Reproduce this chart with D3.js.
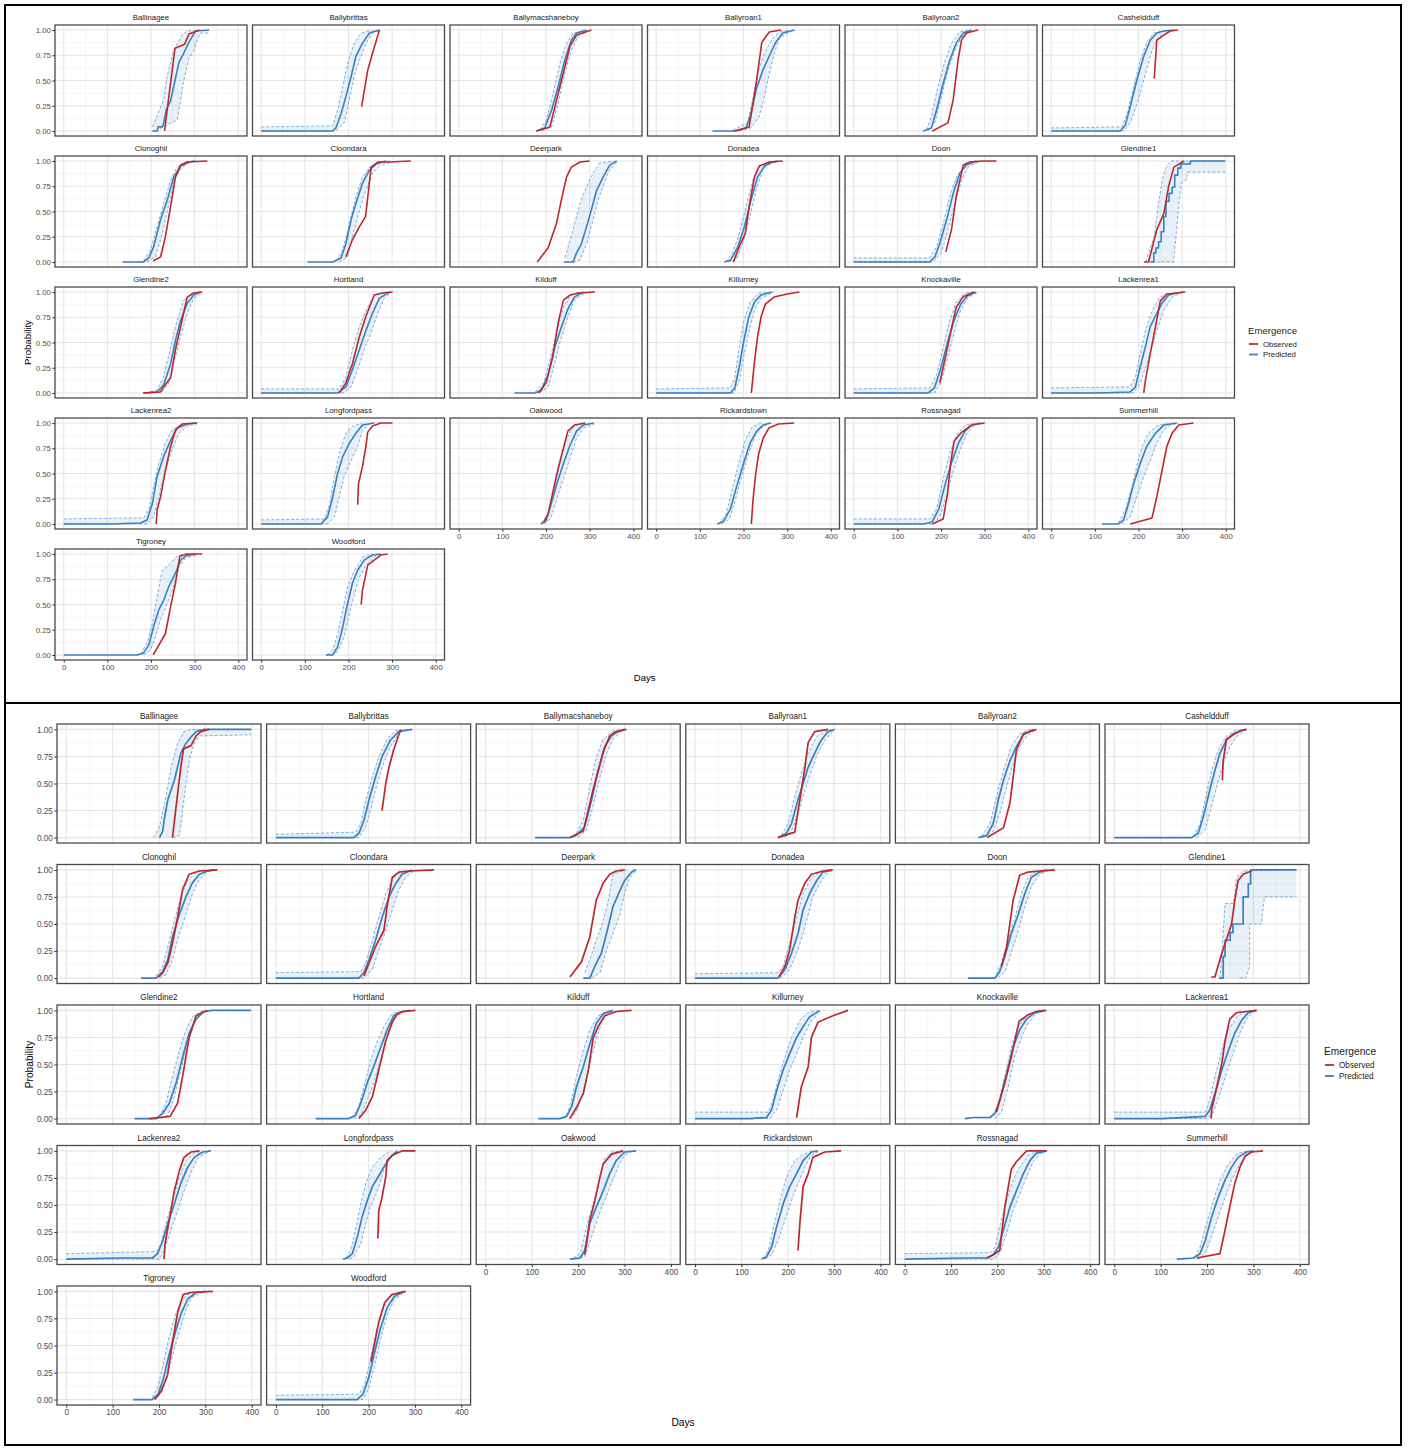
<!DOCTYPE html>
<html>
<head>
<meta charset="utf-8">
<script src="https://cdn.jsdelivr.net/npm/d3@7"></script>
<style>
body { margin: 0; background: #fff; }
svg text { font-family: "Liberation Sans", Arial, sans-serif; }
</style>
</head>
<body>
<svg id="chart" width="1408" height="1448"></svg>
<script>
// Sites (facets), in facet order
const sites = ["Ballinagee","Ballybrittas","Ballymacshaneboy","Ballyroan1","Ballyroan2","Casheldduff",
  "Clonoghil","Cloondara","Deerpark","Donadea","Doon","Glendine1",
  "Glendine2","Hortland","Kilduff","Killurney","Knockaville","Lackenrea1",
  "Lackenrea2","Longfordpass","Oakwood","Rickardstown","Rossnagad","Summerhill",
  "Tigroney","Woodford"]

const xTicks = [0, 100, 200, 300, 400]
const yTicks = [0, 0.25, 0.5, 0.75, 1]
const legendKeys = ["Observed", "Predicted"]

// ---- top chart: [day, probability] points ----
const obsA = [
  [[231,0],[255,0.82],[277,0.86],[287,0.96],[311,1]],
  [[230,0.24],[244,0.6],[255,0.77],[271,1]],
  [[178,0],[209,0.04],[232,0.44],[255,0.84],[270,0.95],[304,1]],
  [[179,0],[213,0.04],[229,0.47],[242,0.88],[259,0.98],[286,1]],
  [[180,0],[216,0.08],[228,0.31],[239,0.7],[247,0.9],[258,0.97],[285,1]],
  [[236,0.52],[242,0.9],[258,0.95],[273,0.99],[290,1]],
  [[205,0.01],[222,0.05],[233,0.25],[245,0.55],[256,0.84],[268,0.96],[283,0.99],[329,1]],
  [[194,0.05],[209,0.22],[225,0.35],[239,0.45],[252,0.94],[267,0.99],[294,0.99],[343,1]],
  [[180,0],[205,0.14],[224,0.38],[235,0.61],[247,0.84],[258,0.94],[278,0.99],[300,1]],
  [[177,0],[190,0.15],[204,0.28],[213,0.55],[225,0.84],[236,0.95],[259,0.99],[290,1]],
  [[211,0.1],[224,0.32],[235,0.65],[251,0.96],[266,0.99],[297,1],[327,1]],
  [[213,0],[223,0],[242,0.32],[258,0.48],[269,0.75],[281,0.94],[305,1]],
  [[182,0],[222,0.01],[229,0.06],[245,0.15],[256,0.43],[271,0.72],[283,0.95],[298,0.99],[317,1]],
  [[179,0],[194,0.1],[209,0.29],[225,0.56],[240,0.76],[259,0.97],[278,0.99],[301,1]],
  [[183,0],[200,0.1],[215,0.35],[228,0.7],[240,0.92],[255,0.97],[275,0.99],[312,1]],
  [[218,0],[225,0.3],[232,0.55],[240,0.75],[250,0.88],[270,0.95],[300,0.98],[328,1]],
  [[197,0.1],[210,0.35],[222,0.6],[235,0.85],[250,0.95],[275,1]],
  [[212,0],[216,0.13],[227,0.39],[239,0.66],[250,0.91],[265,0.98],[288,0.99],[307,1]],
  [[212,0],[214,0.14],[222,0.27],[233,0.53],[245,0.77],[256,0.93],[271,0.99],[306,1]],
  [[221,0.19],[223,0.4],[232,0.57],[240,0.77],[244,0.91],[255,0.97],[274,1],[301,1]],
  [[195,0.02],[205,0.1],[215,0.3],[225,0.5],[238,0.72],[250,0.92],[265,0.98],[290,1]],
  [[218,0],[222,0.25],[228,0.5],[235,0.7],[245,0.85],[258,0.95],[280,0.99],[316,1]],
  [[180,0],[205,0.05],[215,0.3],[222,0.6],[230,0.82],[245,0.9],[270,0.98],[300,1]],
  [[181,0],[231,0.06],[242,0.27],[254,0.53],[265,0.77],[277,0.9],[292,0.98],[326,1]],
  [[205,0],[233,0.21],[245,0.48],[256,0.71],[266,0.98],[283,1],[317,1]],
  [[229,0.5],[232,0.64],[244,0.89],[259,0.94],[274,0.99],[290,1]]
]
const predA = [
  [[203,0],[215,0],[216,0.04],[226,0.04],[229,0.08],[235,0.21],[245,0.3],[255,0.5],[264,0.68],[275,0.77],[287,0.88],[302,0.99],[333,1]],
  [[0,0],[164,0],[171,0.03],[183,0.17],[194,0.34],[206,0.54],[217,0.74],[232,0.87],[248,0.97],[271,1]],
  [[178,0],[197,0.03],[213,0.21],[228,0.44],[243,0.7],[258,0.9],[270,0.97],[293,1]],
  [[129,0],[183,0],[206,0.03],[217,0.17],[229,0.41],[244,0.6],[259,0.74],[274,0.88],[290,0.97],[317,1]],
  [[159,0],[178,0.03],[190,0.21],[205,0.47],[220,0.7],[235,0.87],[251,0.97],[270,1]],
  [[0,0],[158,0],[170,0.06],[181,0.24],[196,0.5],[212,0.74],[227,0.9],[242,0.97],[258,0.99],[281,1]],
  [[135,0],[183,0],[195,0.04],[206,0.15],[222,0.42],[237,0.61],[252,0.84],[268,0.95],[287,0.99],[302,1]],
  [[106,0],[164,0],[183,0.04],[194,0.18],[206,0.42],[217,0.58],[232,0.78],[248,0.91],[263,0.97],[286,1]],
  [[241,0],[262,0],[270,0.09],[281,0.18],[293,0.35],[308,0.58],[316,0.71],[331,0.84],[346,0.96],[362,1]],
  [[156,0],[171,0.02],[187,0.15],[202,0.35],[217,0.61],[232,0.84],[248,0.95],[267,0.99],[278,1]],
  [[0,0],[174,0],[186,0.05],[197,0.18],[213,0.42],[228,0.68],[243,0.88],[258,0.96],[281,1]],
  [[227,0],[235,0],[235,0.09],[240,0.09],[240,0.14],[246,0.14],[246,0.2],[252,0.2],[252,0.3],[258,0.3],[258,0.45],[263,0.45],[263,0.6],[270,0.6],[270,0.68],[277,0.68],[277,0.74],[283,0.74],[283,0.86],[290,0.86],[290,0.93],[297,0.93],[297,0.97],[319,0.97],[319,1],[399,1]],
  [[183,0],[214,0.01],[229,0.08],[245,0.29],[256,0.52],[268,0.72],[283,0.89],[298,0.97],[313,1]],
  [[0,0],[175,0],[194,0.06],[209,0.23],[225,0.43],[240,0.62],[255,0.79],[271,0.94],[294,1]],
  [[128,0],[175,0],[190,0.03],[205,0.18],[220,0.45],[235,0.65],[250,0.83],[265,0.95],[285,1]],
  [[0,0],[170,0],[180,0.05],[190,0.25],[200,0.5],[212,0.75],[225,0.9],[240,0.97],[265,1]],
  [[0,0],[170,0],[185,0.05],[200,0.25],[215,0.5],[230,0.72],[245,0.88],[260,0.96],[280,1]],
  [[0,0],[105,0],[181,0.01],[193,0.06],[204,0.26],[216,0.46],[227,0.66],[242,0.79],[254,0.89],[269,0.97],[288,0.99],[304,1]],
  [[0,0],[107,0],[176,0.01],[191,0.04],[203,0.2],[214,0.47],[229,0.67],[245,0.83],[260,0.95],[283,0.99],[302,1]],
  [[0,0],[137,0],[152,0.07],[164,0.27],[175,0.5],[187,0.67],[202,0.8],[217,0.9],[232,0.98],[259,1]],
  [[188,0],[200,0.03],[212,0.2],[225,0.4],[240,0.6],[255,0.78],[270,0.92],[285,0.98],[310,1]],
  [[140,0],[155,0.03],[170,0.15],[185,0.38],[200,0.6],[215,0.8],[230,0.92],[245,0.98],[262,1]],
  [[0,0],[160,0],[180,0.02],[195,0.15],[210,0.4],[225,0.62],[240,0.8],[255,0.92],[270,0.98],[290,1]],
  [[116,0],[154,0],[166,0.04],[177,0.2],[189,0.4],[204,0.6],[219,0.77],[239,0.9],[258,0.98],[288,1]],
  [[0,0],[168,0],[183,0.02],[195,0.1],[206,0.28],[218,0.45],[229,0.54],[241,0.68],[256,0.81],[268,0.94],[279,0.98],[302,1]],
  [[148,0],[164,0],[175,0.08],[187,0.28],[198,0.51],[209,0.71],[221,0.84],[236,0.94],[255,0.99],[274,1]]
]
const uprA = [
  [[203,0.04],[229,0.31],[237,0.54],[252,0.8],[271,0.95],[283,0.99],[333,1]],
  [[0,0.04],[164,0.05],[175,0.21],[187,0.44],[198,0.67],[213,0.87],[229,0.97],[255,1]],
  [[186,0.01],[201,0.11],[216,0.37],[232,0.67],[247,0.87],[262,0.97],[285,0.99]],
  [[175,0.01],[209,0.08],[221,0.31],[232,0.57],[248,0.77],[267,0.92],[282,0.98],[305,1]],
  [[167,0.01],[178,0.14],[193,0.44],[209,0.69],[224,0.87],[243,0.98],[262,1]],
  [[0,0.03],[162,0.04],[174,0.17],[189,0.44],[204,0.7],[219,0.88],[235,0.97],[265,1]],
  [[183,0.01],[199,0.12],[214,0.35],[229,0.58],[245,0.81],[260,0.94],[279,0.99],[298,1]],
  [[171,0.01],[187,0.12],[202,0.38],[217,0.65],[232,0.84],[248,0.94],[271,0.99],[294,1]],
  [[243,0.04],[251,0.15],[262,0.32],[278,0.58],[293,0.75],[308,0.88],[323,0.98],[354,1]],
  [[160,0],[175,0.09],[190,0.28],[206,0.55],[221,0.81],[236,0.94],[259,0.99]],
  [[0,0.04],[174,0.04],[190,0.15],[205,0.38],[220,0.65],[235,0.84],[255,0.96],[278,1]],
  [[216,0],[236,0.25],[245,0.55],[256,0.85],[266,0.96],[276,1],[399,1]],
  [[187,0],[214,0.03],[229,0.16],[245,0.46],[260,0.72],[275,0.92],[294,0.99],[313,1]],
  [[0,0.04],[179,0.04],[194,0.16],[209,0.43],[225,0.66],[240,0.82],[259,0.97],[286,1]],
  [[175,0.01],[195,0.1],[210,0.35],[225,0.62],[240,0.85],[255,0.96],[275,1]],
  [[0,0.04],[170,0.05],[180,0.15],[190,0.45],[200,0.7],[215,0.9],[235,0.99],[255,1]],
  [[0,0.04],[175,0.05],[190,0.18],[205,0.45],[220,0.72],[235,0.9],[255,0.99],[270,1]],
  [[0,0.05],[181,0.06],[193,0.16],[204,0.39],[216,0.62],[232,0.82],[247,0.94],[265,0.99]],
  [[0,0.05],[183,0.06],[195,0.14],[206,0.37],[218,0.6],[233,0.8],[248,0.93],[271,0.99]],
  [[0,0.04],[145,0.05],[157,0.2],[168,0.47],[179,0.7],[194,0.9],[210,0.97],[232,1]],
  [[190,0.01],[205,0.1],[218,0.35],[232,0.6],[245,0.82],[260,0.95],[280,1]],
  [[145,0],[160,0.1],[175,0.35],[190,0.62],[205,0.84],[220,0.96],[240,1]],
  [[0,0.05],[175,0.05],[190,0.15],[205,0.45],[220,0.7],[235,0.88],[255,0.98],[275,1]],
  [[154,0.01],[170,0.14],[185,0.37],[196,0.57],[208,0.77],[223,0.9],[242,0.97],[265,1]],
  [[176,0.01],[191,0.12],[203,0.31],[214,0.58],[225,0.83],[245,0.91],[260,0.98],[283,1]],
  [[151,0],[164,0.05],[175,0.21],[187,0.45],[198,0.68],[214,0.84],[233,0.97],[255,1]]
]
const lwrA = [
  [[210,0],[260,0.11],[268,0.31],[275,0.5],[287,0.72],[298,0.79],[306,0.9],[313,0.97],[333,0.97]],
  [[0,0],[171,0],[190,0.08],[202,0.31],[213,0.54],[225,0.7],[240,0.87],[255,0.97],[271,0.99]],
  [[190,0],[213,0.04],[228,0.27],[243,0.57],[258,0.8],[273,0.93],[293,0.98]],
  [[190,0],[217,0.03],[236,0.14],[248,0.34],[259,0.57],[271,0.77],[282,0.92],[305,0.98]],
  [[170,0],[186,0.08],[201,0.34],[216,0.6],[232,0.8],[247,0.93],[266,0.98]],
  [[0,0],[166,0],[181,0.08],[200,0.31],[216,0.57],[231,0.8],[246,0.93],[269,0.98]],
  [[191,0],[210,0.05],[226,0.28],[241,0.58],[256,0.84],[271,0.94],[291,0.99],[306,1]],
  [[179,0],[198,0.05],[209,0.25],[225,0.51],[240,0.71],[255,0.88],[271,0.95],[297,0.99]],
  [[262,0],[278,0.02],[293,0.18],[308,0.42],[319,0.61],[331,0.75],[342,0.88],[354,0.96],[365,1]],
  [[164,0],[183,0.02],[198,0.18],[213,0.42],[229,0.71],[244,0.91],[263,0.98],[278,0.99]],
  [[0,0],[182,0],[201,0.09],[216,0.32],[232,0.58],[247,0.81],[262,0.94],[285,0.99]],
  [[230,0],[280,0],[287,0.3],[293,0.6],[298,0.78],[311,0.82],[312,0.89],[399,0.89]],
  [[191,0],[225,0.01],[241,0.1],[252,0.29],[268,0.56],[283,0.79],[298,0.94],[317,0.99]],
  [[0,0],[187,0],[206,0.06],[221,0.23],[236,0.43],[251,0.59],[267,0.79],[282,0.94],[298,0.99]],
  [[185,0],[205,0.06],[220,0.3],[235,0.55],[250,0.75],[265,0.92],[290,0.99]],
  [[0,0],[178,0],[190,0.12],[200,0.35],[212,0.6],[225,0.82],[240,0.94],[270,1]],
  [[0,0],[185,0],[200,0.1],[215,0.35],[230,0.6],[245,0.82],[260,0.94],[285,1]],
  [[0,0],[189,0],[204,0.1],[219,0.29],[231,0.46],[242,0.62],[258,0.82],[277,0.95],[296,0.99]],
  [[0,0],[191,0],[206,0.07],[218,0.27],[233,0.53],[248,0.73],[264,0.9],[283,0.97],[306,0.99]],
  [[0,0],[152,0],[168,0.07],[179,0.27],[190,0.47],[206,0.63],[221,0.77],[232,0.93],[248,0.99]],
  [[195,0],[210,0.05],[225,0.25],[240,0.45],[255,0.65],[270,0.85],[285,0.95],[310,0.99]],
  [[150,0],[168,0.05],[182,0.25],[198,0.5],[212,0.7],[228,0.88],[245,0.97],[265,1]],
  [[0,0],[185,0],[200,0.1],[215,0.32],[230,0.55],[245,0.75],[260,0.9],[280,0.99]],
  [[162,0],[181,0.07],[196,0.27],[212,0.47],[227,0.63],[242,0.8],[258,0.93],[273,0.98],[292,1]],
  [[183,0],[199,0.05],[210,0.18],[222,0.35],[237,0.51],[252,0.68],[264,0.87],[279,0.96],[306,0.99]],
  [[160,0],[175,0.03],[190,0.18],[202,0.41],[214,0.61],[225,0.77],[240,0.89],[263,0.98],[278,1]]
]

// ---- bottom chart ----
const obsB = [
  [[229,0],[237,0.29],[247,0.65],[253,0.82],[269,0.85],[280,0.94],[290,0.98],[308,1]],
  [[229,0.25],[237,0.5],[244,0.65],[254,0.81],[269,1]],
  [[182,0],[211,0.06],[232,0.44],[254,0.79],[268,0.94],[282,0.98],[304,1]],
  [[179,0],[215,0.05],[226,0.35],[237,0.65],[244,0.88],[258,0.98],[287,1]],
  [[178,0],[213,0.09],[227,0.32],[234,0.56],[241,0.81],[256,0.96],[284,1]],
  [[233,0.53],[235,0.71],[242,0.91],[260,0.96],[274,0.99],[285,1]],
  [[199,0.01],[208,0.05],[219,0.14],[229,0.32],[240,0.56],[251,0.82],[265,0.96],[287,0.99],[326,1]],
  [[190,0.02],[201,0.14],[215,0.29],[233,0.44],[240,0.66],[251,0.93],[265,0.98],[287,0.99],[341,1]],
  [[182,0.01],[207,0.15],[225,0.38],[239,0.72],[254,0.88],[268,0.96],[282,0.99],[300,1]],
  [[181,0.01],[194,0.11],[204,0.26],[215,0.56],[222,0.72],[237,0.88],[251,0.96],[276,0.99],[294,1]],
  [[209,0.11],[220,0.29],[234,0.72],[248,0.95],[266,0.98],[291,0.99],[324,1]],
  [[209,0.01],[217,0.01],[232,0.23],[246,0.41],[253,0.5],[260,0.72],[267,0.9],[278,0.96],[296,0.99]],
  [[179,0],[201,0.01],[224,0.02],[240,0.14],[251,0.39],[265,0.75],[280,0.95],[294,0.98],[305,1]],
  [[179,0],[194,0.08],[208,0.2],[222,0.45],[237,0.72],[251,0.89],[262,0.97],[276,0.99],[301,1]],
  [[182,0],[196,0.1],[211,0.23],[222,0.45],[232,0.74],[243,0.85],[257,0.95],[282,0.99],[315,1]],
  [[219,0.01],[229,0.29],[244,0.48],[251,0.75],[265,0.89],[297,0.95],[330,1]],
  [[198,0.06],[216,0.33],[230,0.57],[241,0.79],[247,0.9],[266,0.96],[284,0.99],[302,1]],
  [[209,0],[210,0.08],[221,0.29],[232,0.51],[239,0.72],[249,0.92],[264,0.98],[285,0.99],[307,1]],
  [[211,0],[213,0.14],[222,0.36],[233,0.63],[244,0.82],[254,0.94],[269,0.99],[287,1]],
  [[220,0.19],[222,0.45],[229,0.57],[237,0.76],[240,0.91],[251,0.96],[272,1],[301,1]],
  [[214,0.04],[218,0.14],[225,0.36],[236,0.54],[247,0.76],[254,0.88],[272,0.97],[297,1]],
  [[222,0.08],[226,0.33],[233,0.67],[244,0.79],[254,0.94],[280,0.99],[315,1]],
  [[178,0.01],[191,0.04],[205,0.08],[216,0.48],[230,0.83],[241,0.9],[263,1],[306,1]],
  [[178,0.01],[228,0.05],[239,0.27],[249,0.48],[260,0.7],[271,0.85],[282,0.95],[296,0.99],[321,1]],
  [[191,0],[205,0.08],[218,0.22],[228,0.5],[240,0.8],[252,0.97],[268,0.99],[316,1]],
  [[205,0.35],[212,0.5],[222,0.72],[235,0.9],[250,0.97],[280,1]]
]
const predB = [
  [[201,0],[208,0.06],[211,0.16],[219,0.35],[226,0.44],[233,0.53],[240,0.65],[247,0.78],[258,0.87],[269,0.93],[280,0.98],[297,1],[399,1]],
  [[0,0],[168,0],[179,0.04],[190,0.16],[201,0.35],[215,0.56],[229,0.75],[247,0.9],[265,0.98],[294,1]],
  [[107,0],[182,0],[196,0.02],[214,0.1],[229,0.35],[243,0.62],[257,0.84],[272,0.94],[286,0.98],[300,1]],
  [[179,0],[197,0.04],[208,0.13],[222,0.35],[233,0.5],[244,0.65],[258,0.78],[272,0.9],[287,0.98],[301,1]],
  [[159,0],[177,0.02],[191,0.13],[202,0.35],[213,0.53],[227,0.71],[241,0.84],[256,0.95],[277,1]],
  [[0,0],[167,0],[181,0.04],[192,0.19],[206,0.44],[217,0.62],[228,0.78],[242,0.9],[257,0.96],[274,0.99],[285,1]],
  [[161,0],[194,0],[208,0.06],[219,0.17],[229,0.38],[244,0.59],[258,0.75],[272,0.88],[287,0.96],[305,0.99],[319,1]],
  [[0,0],[179,0],[190,0.05],[201,0.17],[215,0.35],[229,0.56],[244,0.75],[258,0.87],[272,0.96],[294,1]],
  [[211,0],[225,0],[236,0.11],[250,0.23],[261,0.41],[275,0.66],[290,0.81],[300,0.9],[311,0.96],[318,0.99],[325,1]],
  [[0,0],[179,0],[194,0.08],[208,0.23],[222,0.41],[233,0.63],[247,0.78],[262,0.9],[276,0.98],[297,1]],
  [[137,0],[195,0],[205,0.06],[216,0.2],[230,0.41],[245,0.59],[259,0.78],[273,0.93],[291,0.98],[306,1]],
  [[226,0],[235,0],[235,0.2],[239,0.2],[239,0.35],[250,0.35],[250,0.42],[256,0.42],[256,0.5],[278,0.5],[278,0.75],[289,0.75],[289,0.87],[294,0.87],[294,1],[393,1]],
  [[147,0],[194,0],[208,0.05],[222,0.14],[237,0.33],[251,0.57],[265,0.79],[280,0.92],[297,0.99],[315,1],[399,1]],
  [[86,0],[158,0],[172,0.03],[183,0.14],[197,0.33],[211,0.48],[226,0.66],[240,0.82],[254,0.95],[272,0.99],[290,1]],
  [[114,0],[161,0],[175,0.02],[186,0.11],[196,0.29],[211,0.48],[225,0.69],[239,0.88],[254,0.97],[275,1]],
  [[0,0],[118,0],[154,0.01],[165,0.08],[176,0.26],[190,0.45],[204,0.6],[219,0.75],[233,0.85],[247,0.94],[269,1]],
  [[130,0],[148,0.01],[184,0.01],[195,0.05],[205,0.17],[220,0.42],[234,0.66],[248,0.82],[263,0.92],[281,0.98],[306,1]],
  [[0,0],[103,0],[196,0.02],[206,0.08],[217,0.23],[232,0.45],[246,0.63],[260,0.79],[275,0.91],[289,0.98],[307,1]],
  [[0,0],[115,0.01],[186,0.01],[197,0.05],[208,0.17],[219,0.33],[233,0.51],[247,0.7],[262,0.85],[276,0.94],[294,0.99],[312,1]],
  [[145,0],[154,0.01],[165,0.05],[176,0.21],[186,0.39],[197,0.54],[208,0.67],[222,0.77],[237,0.88],[247,0.94],[262,1]],
  [[182,0],[204,0.01],[214,0.08],[225,0.33],[239,0.48],[254,0.63],[268,0.79],[282,0.91],[300,0.99],[325,1]],
  [[143,0],[154,0.02],[165,0.11],[176,0.3],[190,0.51],[204,0.67],[219,0.79],[233,0.91],[251,0.99],[265,1]],
  [[0,0],[134,0.01],[177,0.01],[191,0.04],[202,0.11],[213,0.27],[227,0.48],[241,0.63],[256,0.79],[270,0.91],[284,0.98],[306,1]],
  [[135,0],[171,0.01],[185,0.05],[196,0.17],[210,0.39],[224,0.57],[239,0.73],[253,0.85],[267,0.94],[285,0.99],[300,1]],
  [[144,0],[185,0],[198,0.05],[210,0.2],[222,0.42],[235,0.62],[248,0.8],[262,0.93],[280,0.99],[300,1]],
  [[0,0],[175,0],[188,0.05],[200,0.2],[212,0.42],[225,0.65],[240,0.85],[255,0.95],[275,1]]
]
const uprB = [
  [[188,0],[201,0.1],[215,0.38],[226,0.65],[240,0.87],[254,0.98],[272,1],[399,1]],
  [[0,0.03],[172,0.05],[183,0.13],[194,0.35],[208,0.56],[222,0.75],[240,0.91],[258,0.99],[294,1]],
  [[196,0.04],[211,0.16],[225,0.47],[239,0.74],[254,0.91],[272,0.98],[290,1]],
  [[186,0.02],[201,0.13],[215,0.38],[229,0.59],[244,0.78],[262,0.93],[280,0.98],[294,1]],
  [[166,0.01],[184,0.13],[198,0.38],[213,0.62],[230,0.84],[248,0.96],[270,1]],
  [[171,0.01],[185,0.13],[196,0.35],[210,0.62],[224,0.81],[242,0.94],[260,0.99],[285,1]],
  [[194,0.02],[208,0.11],[219,0.29],[233,0.53],[247,0.75],[262,0.9],[280,0.98],[297,1]],
  [[0,0.05],[183,0.06],[194,0.14],[208,0.35],[222,0.56],[237,0.78],[251,0.91],[269,0.98],[294,1]],
  [[214,0.05],[225,0.17],[239,0.35],[254,0.53],[265,0.72],[275,0.96],[286,0.98],[304,1]],
  [[0,0.04],[179,0.05],[190,0.11],[204,0.32],[219,0.56],[233,0.78],[251,0.93],[269,0.98],[297,1]],
  [[198,0.03],[209,0.14],[223,0.35],[238,0.56],[252,0.78],[266,0.93],[284,0.99],[306,1]],
  [[228,0],[232,0.23],[239,0.69],[257,0.69],[264,0.93],[278,0.99],[393,1]],
  [[201,0.02],[215,0.14],[229,0.39],[244,0.63],[258,0.82],[272,0.94],[290,0.99],[315,1]],
  [[161,0.01],[176,0.08],[190,0.29],[204,0.54],[219,0.72],[233,0.85],[247,0.95],[265,1]],
  [[175,0.03],[186,0.17],[196,0.39],[211,0.63],[225,0.82],[243,0.95],[261,0.99],[275,1]],
  [[0,0.06],[158,0.06],[168,0.17],[179,0.36],[194,0.57],[208,0.75],[226,0.91],[244,0.98],[262,1]],
  [[191,0.03],[202,0.14],[216,0.39],[230,0.66],[245,0.85],[263,0.95],[284,0.99],[306,1]],
  [[0,0.06],[196,0.06],[206,0.17],[217,0.39],[232,0.63],[246,0.82],[264,0.94],[282,0.99],[307,1]],
  [[0,0.05],[194,0.07],[204,0.14],[215,0.33],[229,0.54],[244,0.76],[258,0.91],[276,0.98],[294,1]],
  [[151,0.01],[161,0.08],[172,0.27],[183,0.51],[194,0.7],[208,0.85],[226,0.94],[247,1]],
  [[189,0.01],[204,0.05],[218,0.3],[232,0.51],[247,0.76],[257,0.93],[272,0.99],[297,1]],
  [[147,0.01],[158,0.08],[168,0.27],[183,0.54],[197,0.76],[215,0.91],[233,0.97],[254,1]],
  [[0,0.05],[184,0.06],[195,0.11],[205,0.3],[220,0.54],[234,0.73],[248,0.85],[266,0.96],[288,1]],
  [[174,0.02],[185,0.11],[199,0.33],[214,0.54],[228,0.73],[246,0.88],[264,0.97],[285,1]],
  [[185,0.02],[198,0.12],[210,0.35],[222,0.58],[235,0.78],[250,0.93],[270,0.99],[290,1]],
  [[0,0.04],[180,0.05],[192,0.15],[205,0.4],[218,0.65],[232,0.85],[248,0.96],[270,1]]
]
const lwrB = [
  [[229,0],[244,0.02],[251,0.25],[258,0.5],[265,0.71],[276,0.87],[287,0.94],[399,0.95]],
  [[0,0],[179,0],[194,0.1],[204,0.25],[215,0.44],[229,0.65],[247,0.84],[265,0.96],[276,0.99]],
  [[200,0],[218,0.07],[232,0.29],[247,0.56],[261,0.78],[275,0.91],[293,0.98]],
  [[194,0],[208,0.06],[222,0.22],[237,0.44],[251,0.62],[265,0.78],[280,0.9],[297,0.98]],
  [[170,0],[191,0.06],[205,0.22],[220,0.47],[234,0.68],[248,0.84],[263,0.94],[281,0.99]],
  [[178,0],[196,0.07],[210,0.29],[221,0.47],[235,0.68],[249,0.84],[264,0.93],[282,0.99]],
  [[201,0],[215,0.03],[229,0.17],[244,0.41],[258,0.59],[272,0.78],[287,0.91],[305,0.98],[323,1]],
  [[0,0],[190,0],[208,0.08],[222,0.26],[237,0.44],[251,0.63],[265,0.81],[280,0.93],[297,0.99]],
  [[229,0],[247,0.05],[261,0.26],[275,0.41],[290,0.59],[300,0.78],[311,0.93],[325,0.99]],
  [[0,0],[186,0],[204,0.08],[219,0.23],[233,0.41],[244,0.59],[254,0.75],[269,0.88],[287,0.98],[301,1]],
  [[202,0],[216,0.06],[230,0.23],[245,0.44],[259,0.66],[273,0.84],[291,0.96],[309,0.99]],
  [[270,0],[283,0],[292,0.1],[292,0.5],[317,0.5],[324,0.75],[393,0.75]],
  [[204,0],[219,0.03],[233,0.2],[247,0.45],[262,0.69],[276,0.88],[290,0.97],[305,1]],
  [[168,0],[183,0.03],[197,0.17],[211,0.33],[226,0.54],[240,0.75],[254,0.92],[272,0.98]],
  [[182,0],[196,0.06],[211,0.26],[222,0.45],[236,0.69],[250,0.88],[265,0.97],[286,0.99]],
  [[0,0],[161,0],[176,0.08],[190,0.26],[204,0.45],[219,0.6],[233,0.75],[247,0.88],[265,0.97]],
  [[195,0],[209,0.06],[223,0.29],[237,0.57],[252,0.75],[266,0.88],[284,0.97],[302,1]],
  [[0,0],[199,0],[213,0.05],[228,0.23],[242,0.42],[256,0.6],[271,0.79],[285,0.92],[299,0.98]],
  [[0,0],[201,0],[211,0.08],[226,0.27],[240,0.45],[254,0.63],[269,0.8],[283,0.93],[305,0.99]],
  [[158,0],[168,0.02],[183,0.14],[194,0.33],[204,0.48],[219,0.63],[233,0.82],[244,0.93],[265,0.99]],
  [[193,0],[214,0.02],[229,0.21],[243,0.39],[257,0.54],[272,0.7],[286,0.85],[300,0.96],[318,1]],
  [[151,0],[165,0.04],[179,0.17],[194,0.36],[208,0.54],[222,0.7],[237,0.85],[251,0.96],[265,0.99]],
  [[0,0],[191,0],[205,0.05],[220,0.24],[234,0.45],[248,0.6],[263,0.76],[277,0.9],[292,0.97],[309,1]],
  [[181,0],[196,0.05],[210,0.21],[224,0.39],[239,0.57],[253,0.73],[267,0.85],[282,0.94],[296,0.99]],
  [[190,0],[205,0.06],[218,0.22],[230,0.42],[243,0.62],[257,0.82],[272,0.95],[300,1]],
  [[0,0],[188,0],[200,0.1],[212,0.3],[225,0.55],[240,0.78],[255,0.92],[280,1]]
]

const colors = { obs: "#c0272d", pred: "#3a80c1" }

const svg = d3.select("#chart")

// outer frames
svg.append('rect').attr('x', 5).attr('y', 5).attr('width', 1396).attr('height', 698)
    .attr('fill', 'none').attr('stroke', '#000').attr('stroke-width', 2)
svg.append('rect').attr('x', 5).attr('y', 703).attr('width', 1396).attr('height', 742)
    .attr('fill', 'none').attr('stroke', '#000').attr('stroke-width', 2)

let dimsA = { left: 55, colStep: 197.5, pw: 192, top: 25, rowStep: 131, ph: 111,
    fs: 7.8, title: 9.6, lw: 1.6, probX: 28, legX: 1248, legY: 330, legGap: 10.5 }
let dimsB = { left: 57, colStep: 209.6, pw: 204, top: 724, rowStep: 140.5, ph: 119,
    fs: 8.2, title: 10.2, lw: 1.7, probX: 30, legX: 1324, legY: 1051, legGap: 11 }

function drawChart(dims, obs, pred, upr, lwr) {
    const xScale = d3.scaleLinear().domain([-20, 420]).range([0, dims.pw])
    const yScale = d3.scaleLinear().domain([-0.05, 1.05]).range([dims.ph, 0])
    const line = d3.line().x(d => xScale(d[0])).y(d => yScale(d[1]))

    sites.forEach((name, i) => {
        const row = Math.floor(i / 6), col = i % 6
        const g = svg.append('g')
            .attr('transform', `translate(${dims.left + col * dims.colStep},${dims.top + row * dims.rowStep})`)

        // grid
        const minorX = [50, 150, 250, 350], minorY = [0.125, 0.375, 0.625, 0.875]
        g.selectAll('.mx').data(minorX).join('line')
            .attr('x1', d => xScale(d)).attr('x2', d => xScale(d)).attr('y1', 0).attr('y2', dims.ph)
            .attr('stroke', '#f0f0f0').attr('stroke-width', 0.6)
        g.selectAll('.my').data(minorY).join('line')
            .attr('y1', d => yScale(d)).attr('y2', d => yScale(d)).attr('x1', 0).attr('x2', dims.pw)
            .attr('stroke', '#f0f0f0').attr('stroke-width', 0.6)
        g.selectAll('.gx').data(xTicks).join('line')
            .attr('x1', d => xScale(d)).attr('x2', d => xScale(d)).attr('y1', 0).attr('y2', dims.ph)
            .attr('stroke', '#e6e6e6').attr('stroke-width', 1.1)
        g.selectAll('.gy').data(yTicks).join('line')
            .attr('y1', d => yScale(d)).attr('y2', d => yScale(d)).attr('x1', 0).attr('x2', dims.pw)
            .attr('stroke', '#e6e6e6').attr('stroke-width', 1.1)

        // confidence band
        g.append('path')
            .attr('d', line(upr[i].concat(lwr[i].slice().reverse())) + 'Z')
            .attr('fill', colors.pred).attr('fill-opacity', 0.11).attr('stroke', 'none')
        ;[upr[i], lwr[i]].forEach(b => {
            g.append('path').attr('d', line(b))
                .attr('fill', 'none').attr('stroke', '#5b95cc')
                .attr('stroke-width', 0.75).attr('stroke-dasharray', '3,2')
        })

        g.append('path').attr('d', line(pred[i]))
            .attr('fill', 'none').attr('stroke', colors.pred).attr('stroke-width', dims.lw)
            .attr('stroke-linejoin', 'round')
        g.append('path').attr('d', line(obs[i]))
            .attr('fill', 'none').attr('stroke', colors.obs).attr('stroke-width', dims.lw)
            .attr('stroke-linejoin', 'round')

        // panel border
        g.append('rect').attr('width', dims.pw).attr('height', dims.ph)
            .attr('fill', 'none').attr('stroke', '#4a4a4a').attr('stroke-width', 1.3)

        // strip label
        g.append('text')
            .attr('x', dims.pw / 2).attr('y', -5)
            .attr('text-anchor', 'middle').attr('font-size', dims.fs + 'px')
            .attr('fill', '#1a1a1a')
            .text(name)

        if (col === 0) {
            const yAxis = g.append('g')
                .call(d3.axisLeft(yScale).tickValues(yTicks).tickFormat(d3.format('.2f')).tickSize(2.7).tickPadding(1.5))
            yAxis.select('.domain').remove()
            yAxis.selectAll('line').attr('stroke', '#333')
            yAxis.selectAll('text').attr('font-size', dims.fs + 'px').attr('fill', '#4d4d4d')
                .style('font-family', '"Liberation Sans", Arial, sans-serif')
        }
        if (i + 6 >= sites.length) {
            const xAxis = g.append('g').attr('transform', `translate(0,${dims.ph})`)
                .call(d3.axisBottom(xScale).tickValues(xTicks).tickSize(2.7).tickPadding(1.5))
            xAxis.select('.domain').remove()
            xAxis.selectAll('line').attr('stroke', '#333')
            xAxis.selectAll('text').attr('font-size', dims.fs + 'px').attr('fill', '#4d4d4d')
                .style('font-family', '"Liberation Sans", Arial, sans-serif')
        }
    })

    // axis titles
    const right = dims.left + 5 * dims.colStep + dims.pw
    const bottom = dims.top + 4 * dims.rowStep + dims.ph
    svg.append('text')
        .attr('x', (dims.left + right) / 2).attr('y', bottom + 21)
        .attr('text-anchor', 'middle').attr('font-size', dims.title + 'px')
        .text('Days')
    svg.append('text')
        .attr('transform', `translate(${dims.probX + 3},${(dims.top + bottom) / 2}) rotate(-90)`)
        .attr('text-anchor', 'middle').attr('font-size', dims.title + 'px')
        .text('Probability')

    // legend
    const leg = svg.append('g').attr('transform', `translate(${dims.legX},${dims.legY})`)
    leg.append('text').attr('x', 0).attr('y', 3.5).attr('font-size', dims.title + 'px')
        .attr('fill', '#1a1a1a').text('Emergence')
    legendKeys.forEach((k, j) => {
        const yy = 14 + j * dims.legGap
        leg.append('line').attr('x1', 1).attr('x2', 10).attr('y1', yy).attr('y2', yy)
            .attr('stroke', j === 0 ? colors.obs : colors.pred).attr('stroke-width', 1.8)
        leg.append('text').attr('x', 15).attr('y', yy + 2.8).attr('font-size', dims.fs + 'px')
            .attr('fill', '#1a1a1a').text(k)
    })
}

drawChart(dimsA, obsA, predA, uprA, lwrA)
drawChart(dimsB, obsB, predB, uprB, lwrB)
</script>
</body>
</html>
